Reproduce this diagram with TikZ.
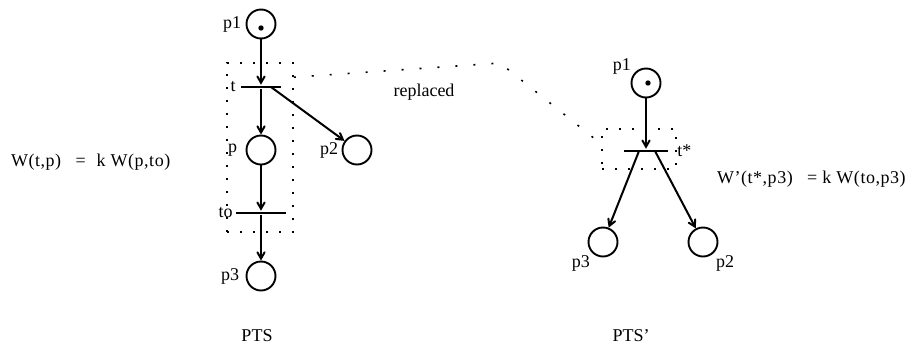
\documentclass[tikz,border=0pt]{standalone}
\usepackage{fontspec}
\setmainfont{Liberation Serif}
\usetikzlibrary{arrows}

\begin{document}
\begin{tikzpicture}[->,>=angle 60,x=1pt,y=-1pt,node distance=63pt,line width=2pt,
  font=\fontsize{18}{21}\selectfont]
\tikzstyle{place}=[circle,draw,minimum size=29pt,inner sep=0pt,line width=1.9pt]
\tikzstyle{trans}=[rectangle,fill=black,minimum height=2.6pt,inner sep=0pt]
\tikzstyle{token}=[circle,fill=black,inner sep=1.9pt]
\tikzstyle{dotbox}=[draw,inner sep=0pt,line width=1.6pt,dash pattern=on 2pt off 11pt]
\tikzstyle{dotline}=[-,line width=1.6pt,dash pattern=on 2pt off 16pt]
\tikzstyle{weight}=[anchor=west,inner sep=0pt,font=\fontsize{18}{21}\selectfont\addfontfeature{LetterSpace=3}]
\useasboundingbox (0,0) rectangle (917,354);

% net PTS
\node[place,label=left:p1] (p1) at (261,24) {};
\node[token] (k1) at ([yshift=-4pt]p1.center) {};
\node[trans,minimum width=40pt,label=left:t][below of=p1] (t) {};
\node[place,label={[label distance=4pt]left:p}][below of=t] (p) {};
\node[place,label={[label distance=-1pt]left:p2}] (p2) at (357,150) {};
\node[trans,minimum width=50pt,label={[label distance=-2pt]left:to}][below of=p] (to) {};
\node[place,label={[label distance=2pt]left:p3}][below of=to] (p3) {};
\node[dotbox,minimum width=66pt,minimum height=169pt] (tbox) at (260,147.5) {};

% net PTS'
\node[place,label={[label distance=-4pt]160:p1}] (q1) at (646,83) {};
\node[token] (k2) at ([xshift=2pt]q1.center) {};
\node[trans,minimum width=44pt,label={[label distance=4pt]right:t*}][below of=q1,node distance=68pt] (ts) {};
\node[place,label={[label distance=-3pt]below left:p3}] (q3) at (603,242) {};
\node[place,label={[label distance=-3pt]below right:p2}] (q2) at (703,242) {};
\node[dotbox,minimum width=74pt,minimum height=40pt] (tsbox) at (639,149) {};

\path (p1) edge (t)
      (t) edge (p)
      ([xshift=10pt]t.center) edge (p2)
      (p) edge (to)
      (to) edge (p3)
      (q1) edge (ts)
      ([xshift=-7pt]ts.center) edge (q3)
      ([xshift=9pt]ts.center) edge (q2);

% the replacement link
\coordinate (kink) at (500,63);
\draw[dotline] ([yshift=-15pt]tbox.north east) -- (kink) -- ([yshift=5pt]tsbox.west);
\node (repl) at (424,92) {replaced};

% weights and titles
\node[weight] (wl) at (10,162) {W(t,p)\hspace{0.8em}=\hspace{0.6em}k W(p,to)};
\node[weight] (wr) at (716,179) {W'(t*,p3)\hspace{0.8em}= k W(to,p3)};
\node (pts) at (257,336) {PTS};
\node (ptsb) at (631,336) {PTS'};
\end{tikzpicture}
\end{document}
